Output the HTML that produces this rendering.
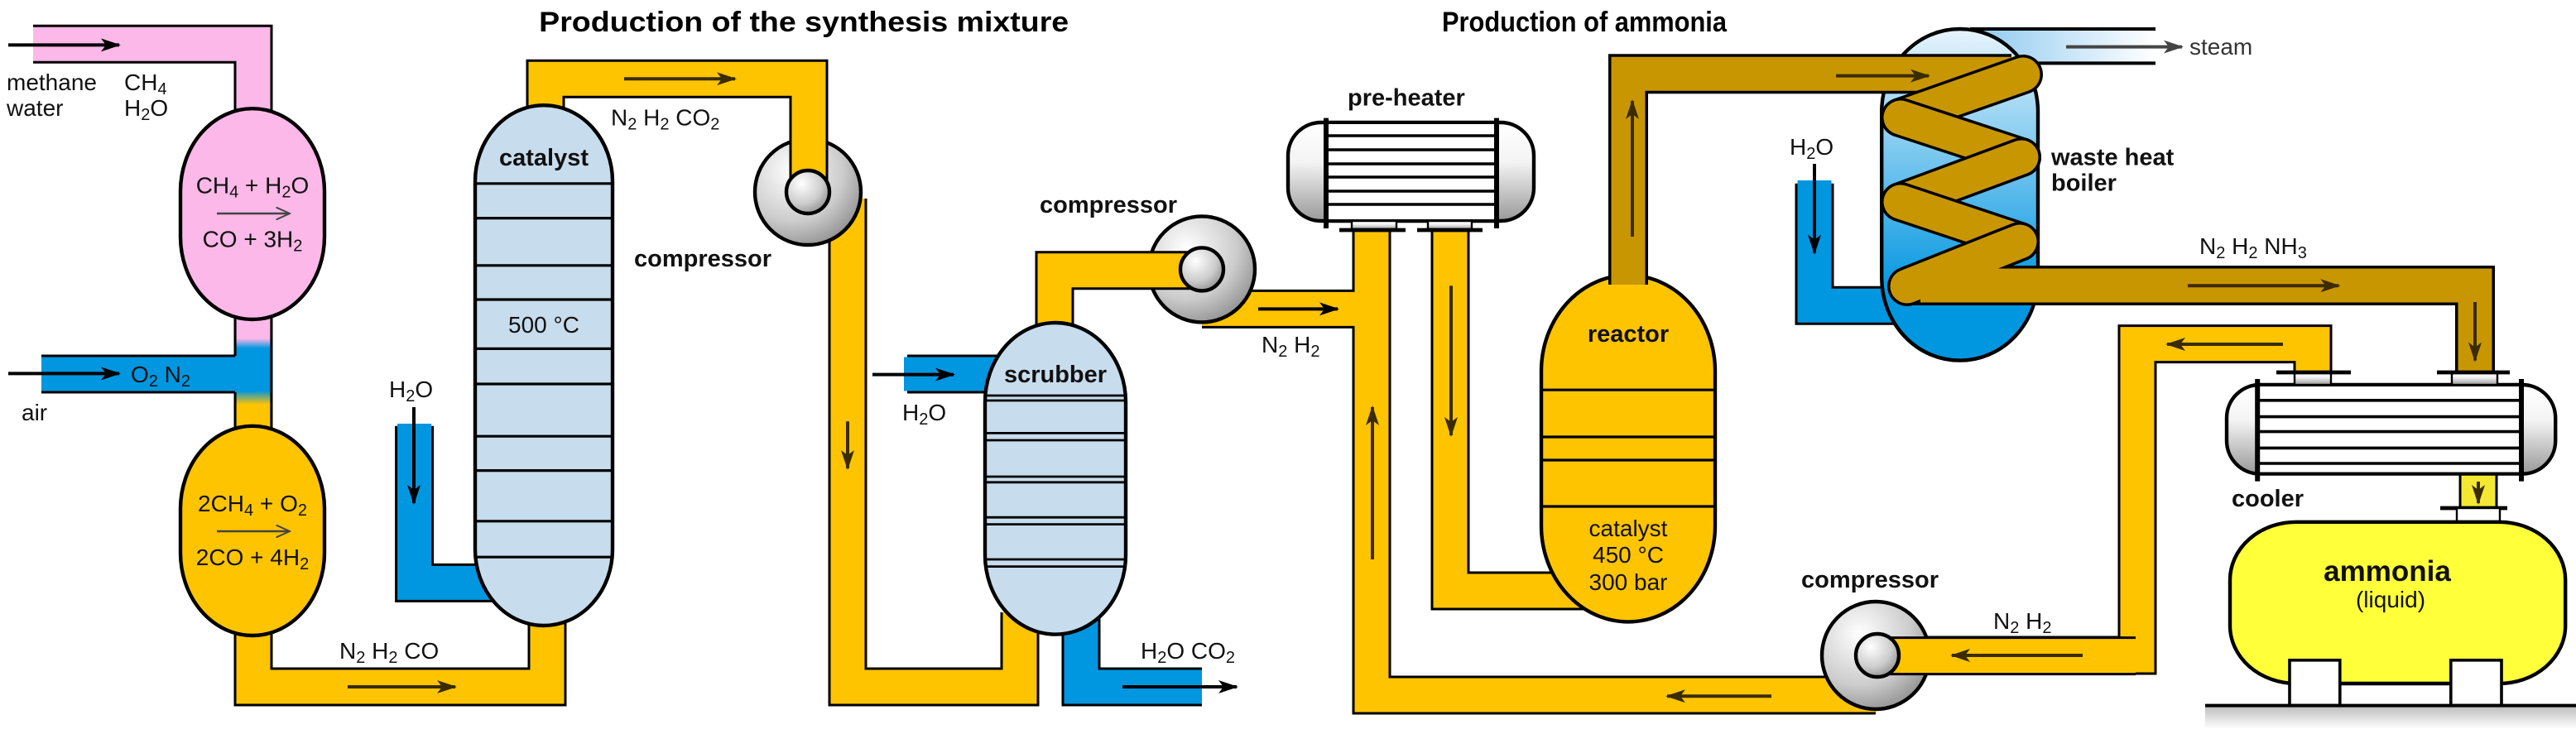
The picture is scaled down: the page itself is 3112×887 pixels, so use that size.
<!DOCTYPE html>
<html><head><meta charset="utf-8"><style>html,body{margin:0;padding:0;background:#fff}svg{display:block}text{font-family:"Liberation Sans",sans-serif}</style></head><body>
<svg width="3112" height="887" viewBox="0 0 1556 443.5" xmlns="http://www.w3.org/2000/svg">
<defs>
<marker id="ab" viewBox="0 0 12 8" refX="11" refY="4" markerWidth="6" markerHeight="4" orient="auto" markerUnits="strokeWidth"><path d="M0,0 L12,4 L0,8 L3,4z" fill="#000"/></marker>
<marker id="ad" viewBox="0 0 12 8" refX="11" refY="4" markerWidth="6" markerHeight="4" orient="auto" markerUnits="strokeWidth"><path d="M0,0 L12,4 L0,8 L3,4z" fill="#3a2c00"/></marker>
<marker id="ag" viewBox="0 0 12 8" refX="11" refY="4" markerWidth="6" markerHeight="4" orient="auto" markerUnits="strokeWidth"><path d="M0,0 L12,4 L0,8 L3,4z" fill="#444"/></marker>
<marker id="ao" viewBox="0 0 12 10" refX="11" refY="5" markerWidth="7" markerHeight="6" orient="auto" markerUnits="strokeWidth"><path d="M0,0 L11,5 L0,10" fill="none" stroke="#444" stroke-width="1.3"/></marker>
<radialGradient id="gc" cx="0.35" cy="0.3" r="0.8"><stop offset="0" stop-color="#fff"/><stop offset="0.6" stop-color="#ccc"/><stop offset="1" stop-color="#888"/></radialGradient>
<linearGradient id="gv" x1="0" y1="0" x2="0" y2="1"><stop offset="0" stop-color="#fff"/><stop offset="0.4" stop-color="#f4f4f4"/><stop offset="1" stop-color="#999"/></linearGradient>
<linearGradient id="gb" x1="0" y1="0" x2="0" y2="1"><stop offset="0" stop-color="#e8f4fc"/><stop offset="0.8" stop-color="#0096e0"/><stop offset="1" stop-color="#0096e0"/></linearGradient>
<linearGradient id="gs" x1="0" y1="0" x2="1" y2="0"><stop offset="0" stop-color="#8cc8f0"/><stop offset="1" stop-color="#fff"/></linearGradient>
<linearGradient id="gair" x1="0" y1="0" x2="0" y2="1"><stop offset="0" stop-color="#fbb8e8"/><stop offset="0.23" stop-color="#fbb8e8"/><stop offset="0.3" stop-color="#0096e0"/><stop offset="0.6" stop-color="#0096e0"/><stop offset="0.7" stop-color="#ffc400"/><stop offset="1" stop-color="#ffc400"/></linearGradient>
<linearGradient id="gsh" x1="0" y1="0" x2="0" y2="1"><stop offset="0" stop-color="#bbb"/><stop offset="1" stop-color="#fff"/></linearGradient>
</defs>

<text x="325.6" y="19" font-size="17" font-weight="bold" textLength="320" lengthAdjust="spacingAndGlyphs">Production of the synthesis mixture</text>
<text x="871" y="19" font-size="17" font-weight="bold" textLength="172" lengthAdjust="spacingAndGlyphs">Production of ammonia</text>

<g fill="none" stroke-linejoin="miter" stroke-linecap="butt">
 <g stroke="#000" stroke-width="23.5">
  <path d="M20,26.6 H153 V90"/>
  <path d="M25,226 H153"/>
  <path d="M153,185 V270"/>
  <path d="M153,380 V415 H330.5 V370"/>
  <path d="M250.3,257.4 V352.2 H300"/>
  <path d="M512,120 V415 H616 V370"/>
  <path d="M548,226 H605"/>
  <path d="M653,370 V415 H726"/>
  <path d="M726,186.7 H828.5"/>
  <path d="M828.5,139 V420 H1133"/>
  <path d="M876,139 V357 H960"/>
  <path d="M1096,110.9 V184.6 H1150"/>
  <path d="M1397,225 V207.8 H1291 V396 H1133"/>
  <path d="M1497,285 V308"/>
 </g>
 <g stroke-width="20.5">
  <path d="M20,26.6 H153 V90" stroke="#fbb8e8"/>
  <path d="M25,226 H153" stroke="#0096e0"/>
  <path d="M153,380 V415 H330.5 V370" stroke="#ffc400"/>
  <path d="M250.3,256 V352.2 H300" stroke="#0096e0"/>
  <path d="M512,120 V415 H616 V370" stroke="#ffc400"/>
  <path d="M546,226 H605" stroke="#0096e0"/>
  <path d="M653,370 V415 H726" stroke="#0096e0"/>
  <path d="M828.5,137 V420 H1133" stroke="#ffc400"/>
  <path d="M726,186.7 H829" stroke="#ffc400"/>
  <path d="M876,137 V357 H960" stroke="#ffc400"/>
  <path d="M1096,109 V184.6 H1150" stroke="#0096e0"/>
  <path d="M1397,225 V207.8 H1291 V396 H1133" stroke="#ffc400"/>
  <path d="M1497,285 V308" stroke="#f5e832"/>
 </g>
</g>
<rect x="142.8" y="185" width="20.4" height="85" fill="url(#gair)"/>
<rect x="142" y="215" width="12" height="22" fill="#0096e0"/>

<circle cx="488" cy="116" r="32" fill="url(#gc)" stroke="#000" stroke-width="2.2"/>
<path d="M488.5,116 V47.6 H329.5 V80" fill="none" stroke="#000" stroke-width="23.5"/>
<path d="M488.5,116 V47.6 H329.5 V82" fill="none" stroke="#ffc400" stroke-width="20.5"/>
<circle cx="488" cy="116" r="13" fill="url(#gc)" stroke="#000" stroke-width="2.2"/>

<circle cx="726" cy="162.7" r="32" fill="url(#gc)" stroke="#000" stroke-width="2.2"/>
<path d="M637,200 V163.4 H726" fill="none" stroke="#000" stroke-width="23.5"/>
<path d="M637,202 V163.4 H726" fill="none" stroke="#ffc400" stroke-width="20.5"/>
<circle cx="726" cy="162.7" r="13" fill="url(#gc)" stroke="#000" stroke-width="2.2"/>

<circle cx="1133" cy="396" r="32.5" fill="url(#gc)" stroke="#000" stroke-width="2.2"/>
<path d="M1290,396.3 H1133" fill="none" stroke="#000" stroke-width="23.5"/>
<path d="M1290,396.3 H1133" fill="none" stroke="#ffc400" stroke-width="20.5"/>
<circle cx="1134" cy="396" r="13" fill="url(#gc)" stroke="#000" stroke-width="2.2"/>

<rect x="109" y="65.6" width="87" height="127.4" rx="43.5" ry="50" fill="#fbb8e8" stroke="#000" stroke-width="2.2"/>
<rect x="109" y="257.4" width="87" height="126.6" rx="43.5" ry="50" fill="#ffc400" stroke="#000" stroke-width="2.2"/>
<rect x="287" y="63.6" width="83" height="314.4" rx="41.5" ry="46" fill="#c7dcec" stroke="#000" stroke-width="2.2"/>
<g stroke="#000" stroke-width="1.6">
 <path d="M288,110.9H369M288,131.8H369M288,160.4H369M288,181H369M288,210.7H369M288,232H369M288,263.6H369M288,284.3H369M288,314.9H369M288,336.6H369"/>
</g>
<rect x="595" y="195" width="85" height="188.3" rx="42.5" ry="48" fill="#c7dcec" stroke="#000" stroke-width="2.2"/>
<g stroke="#000" stroke-width="1.4">
 <path d="M596,239H679M596,242H679M596,261.7H679M596,266H679M596,288H679M596,291.4H679M596,312.6H679M596,316.8H679M596,338H679M596,342.3H679"/>
</g>
<rect x="931" y="166.3" width="105" height="209.4" rx="52.5" ry="58" fill="#ffc400" stroke="#000" stroke-width="2.2"/>
<g stroke="#000" stroke-width="1.6"><path d="M932,235.6H1035M932,264H1035M932,278H1035M932,306H1035"/></g>

<rect x="1190" y="17.5" width="112" height="20.7" fill="url(#gs)"/>
<path d="M1190,17.5H1302M1190,38.2H1302" stroke="#000" stroke-width="2"/>
<rect x="1136.6" y="17.5" width="94.4" height="200.3" rx="47" ry="50" fill="url(#gb)" stroke="#000" stroke-width="2.2"/>

<g fill="none">
 <path d="M983.5,172 V44.6 H1215" stroke="#000" stroke-width="24" stroke-linejoin="miter"/>
 <path d="M983.5,172 V44.6 H1215" stroke="#c89600" stroke-width="20.5" stroke-linejoin="miter"/>
 <path d="M1152,172.5 H1495 V224" stroke="#000" stroke-width="24" stroke-linejoin="miter"/>
 <g stroke-linecap="round">
  <path d="M1222,45 L1148,71" stroke="#000" stroke-width="24"/><path d="M1222,45 L1148,71" stroke="#c89600" stroke-width="20.5"/>
  <path d="M1148,71 L1221,95" stroke="#000" stroke-width="24"/><path d="M1148,71 L1221,95" stroke="#c89600" stroke-width="20.5"/>
  <path d="M1221,95 L1148,122" stroke="#000" stroke-width="24"/><path d="M1221,95 L1148,122" stroke="#c89600" stroke-width="20.5"/>
  <path d="M1148,122 L1220,146" stroke="#000" stroke-width="24"/><path d="M1148,122 L1220,146" stroke="#c89600" stroke-width="20.5"/>
  <path d="M1220,146 L1152,173" stroke="#000" stroke-width="24"/><path d="M1220,146 L1152,173" stroke="#c89600" stroke-width="20.5"/>
 </g>
 <path d="M1160,172.5 H1495 V226" stroke="#c89600" stroke-width="20.5" stroke-linejoin="miter"/>
</g>

<rect x="778" y="74" width="148.5" height="59.5" rx="20" fill="url(#gv)" stroke="#000" stroke-width="2.2"/>
<rect x="801" y="75" width="103" height="57.5" fill="#fff"/>
<g stroke="#000" stroke-width="1.8"><path d="M801,74H904M801,82H904M801,90.5H904M801,99H904M801,107H904M801,115.5H904M801,123.5H904M801,133.5H904"/></g>
<path d="M801,71.3V138M904,71.3V138" stroke="#000" stroke-width="3"/>
<rect x="816.5" y="133.5" width="27" height="5" fill="url(#gv)" stroke="#000" stroke-width="1.2"/>
<rect x="862.5" y="133.5" width="26.5" height="5" fill="url(#gv)" stroke="#000" stroke-width="1.2"/>
<path d="M809,139H849M856,139H895.5" stroke="#000" stroke-width="2.4"/>

<rect x="1345" y="232.5" width="198.6" height="53.8" rx="20" fill="url(#gv)" stroke="#000" stroke-width="2.2"/>
<rect x="1363.6" y="233.5" width="159.4" height="51.8" fill="#fff"/>
<g stroke="#000" stroke-width="1.8"><path d="M1363.6,232.5H1523M1363.6,241.9H1523M1363.6,251.8H1523M1363.6,260.8H1523M1363.6,270.7H1523M1363.6,280H1523M1363.6,286.3H1523"/></g>
<path d="M1363.6,229V290.8M1523,229V290.8" stroke="#000" stroke-width="3"/>
<rect x="1386" y="225" width="22" height="7.5" fill="url(#gv)" stroke="#000" stroke-width="1.2"/>
<rect x="1481" y="225" width="27.5" height="7.5" fill="url(#gv)" stroke="#000" stroke-width="1.2"/>
<path d="M1375,225H1420M1472,225H1516M1474,307H1514.5" stroke="#000" stroke-width="2.4"/>
<rect x="1484" y="307" width="26" height="8.4" fill="#fff" stroke="#000" stroke-width="1.2"/>

<rect x="1332" y="426.3" width="233" height="14" fill="url(#gsh)"/>
<rect x="1347" y="315.4" width="202.6" height="97.6" rx="40" ry="35" fill="#ffff3a" stroke="#000" stroke-width="2.2"/>
<rect x="1383" y="398.9" width="30.4" height="27.4" fill="#fff" stroke="#000" stroke-width="1.8"/>
<rect x="1480.4" y="398.9" width="30.6" height="27.4" fill="#fff" stroke="#000" stroke-width="1.8"/>
<path d="M1332,426.3H1565" stroke="#000" stroke-width="2"/>

<g stroke="#000" stroke-width="2" marker-end="url(#ab)" fill="none">
 <path d="M5,27.2H72"/><path d="M5,225.7H72"/><path d="M250,246V304"/><path d="M527,226.3H576"/><path d="M678,415H747"/><path d="M760,186.7H808"/><path d="M1096,99V152.8"/>
</g>
<path d="M1248,28.3H1318" stroke="#444" stroke-width="2" marker-end="url(#ag)"/>
<g stroke="#3a2c00" stroke-width="2" marker-end="url(#ad)" fill="none">
 <path d="M210,415H275"/><path d="M377,47.6H444"/><path d="M512,254.6V283"/><path d="M829,338V246"/><path d="M876.5,172.6V263"/><path d="M986,143V61"/><path d="M1109,45.8H1165"/><path d="M1321.5,172.6H1412.7"/><path d="M1495,182.5V217.8"/><path d="M1379,208H1309"/><path d="M1258,396H1179"/><path d="M1070,420.6H1007"/><path d="M1497,291V304"/>
</g>
<path d="M131,129H175" stroke="#444" stroke-width="1.3" fill="none" marker-end="url(#ao)"/>
<path d="M131,321H175" stroke="#444" stroke-width="1.3" fill="none" marker-end="url(#ao)"/>

<g font-size="14" fill="#111">
 <text x="4" y="54.5">methane</text>
 <text x="75" y="54.5">CH<tspan font-size="10" dy="2.5">4</tspan></text>
 <text x="4" y="70">water</text>
 <text x="75" y="70">H<tspan font-size="10" dy="2.5">2</tspan><tspan dy="-2.5">O</tspan></text>
 <text x="79" y="231">O<tspan font-size="10" dy="2.5">2</tspan><tspan dy="-2.5">  N</tspan><tspan font-size="10" dy="2.5">2</tspan></text>
 <text x="13" y="254">air</text>
 <text x="152.5" y="116.7" text-anchor="middle">CH<tspan font-size="10" dy="2.5">4</tspan><tspan dy="-2.5"> + H</tspan><tspan font-size="10" dy="2.5">2</tspan><tspan dy="-2.5">O</tspan></text>
 <text x="152.5" y="149.3" text-anchor="middle">CO + 3H<tspan font-size="10" dy="2.5">2</tspan></text>
 <text x="152.5" y="309" text-anchor="middle">2CH<tspan font-size="10" dy="2.5">4</tspan><tspan dy="-2.5"> + O</tspan><tspan font-size="10" dy="2.5">2</tspan></text>
 <text x="152.5" y="341.6" text-anchor="middle">2CO + 4H<tspan font-size="10" dy="2.5">2</tspan></text>
 <text x="205" y="398">N<tspan font-size="10" dy="2.5">2</tspan><tspan dy="-2.5">  H</tspan><tspan font-size="10" dy="2.5">2</tspan><tspan dy="-2.5">  CO</tspan></text>
 <text x="328.5" y="201" text-anchor="middle">500 °C</text>
 <text x="369" y="75.7">N<tspan font-size="10" dy="2.5">2</tspan><tspan dy="-2.5">  H</tspan><tspan font-size="10" dy="2.5">2</tspan><tspan dy="-2.5">  CO</tspan><tspan font-size="10" dy="2.5">2</tspan></text>
 <text x="235" y="240">H<tspan font-size="10" dy="2.5">2</tspan><tspan dy="-2.5">O</tspan></text>
 <text x="545" y="254">H<tspan font-size="10" dy="2.5">2</tspan><tspan dy="-2.5">O</tspan></text>
 <text x="689" y="398">H<tspan font-size="10" dy="2.5">2</tspan><tspan dy="-2.5">O  CO</tspan><tspan font-size="10" dy="2.5">2</tspan></text>
 <text x="762" y="213">N<tspan font-size="10" dy="2.5">2</tspan><tspan dy="-2.5">  H</tspan><tspan font-size="10" dy="2.5">2</tspan></text>
 <text x="983.5" y="324" text-anchor="middle">catalyst</text>
 <text x="983.5" y="340" text-anchor="middle">450 °C</text>
 <text x="983.5" y="356.6" text-anchor="middle">300 bar</text>
 <text x="1322.5" y="33" fill="#333">steam</text>
 <text x="1081" y="93.5">H<tspan font-size="10" dy="2.5">2</tspan><tspan dy="-2.5">O</tspan></text>
 <text x="1328.5" y="153.5">N<tspan font-size="10" dy="2.5">2</tspan><tspan dy="-2.5">  H</tspan><tspan font-size="10" dy="2.5">2</tspan><tspan dy="-2.5">  NH</tspan><tspan font-size="10" dy="2.5">3</tspan></text>
 <text x="1204" y="380">N<tspan font-size="10" dy="2.5">2</tspan><tspan dy="-2.5">  H</tspan><tspan font-size="10" dy="2.5">2</tspan></text>
 <text x="1444" y="367" text-anchor="middle">(liquid)</text>
</g>
<g font-size="14.5" font-weight="bold" fill="#111">
 <text x="328.5" y="100" text-anchor="middle">catalyst</text>
 <text x="383" y="161">compressor</text>
 <text x="628" y="128.6">compressor</text>
 <text x="637.5" y="231" text-anchor="middle">scrubber</text>
 <text x="814" y="63.8">pre-heater</text>
 <text x="983.5" y="206.4" text-anchor="middle">reactor</text>
 <text x="1239" y="99.8">waste heat</text>
 <text x="1239" y="115.3">boiler</text>
 <text x="1348" y="306">cooler</text>
 <text x="1088" y="355">compressor</text>
 <text x="1442" y="351" text-anchor="middle" font-size="17.5">ammonia</text>
</g>
</svg>
</body></html>
